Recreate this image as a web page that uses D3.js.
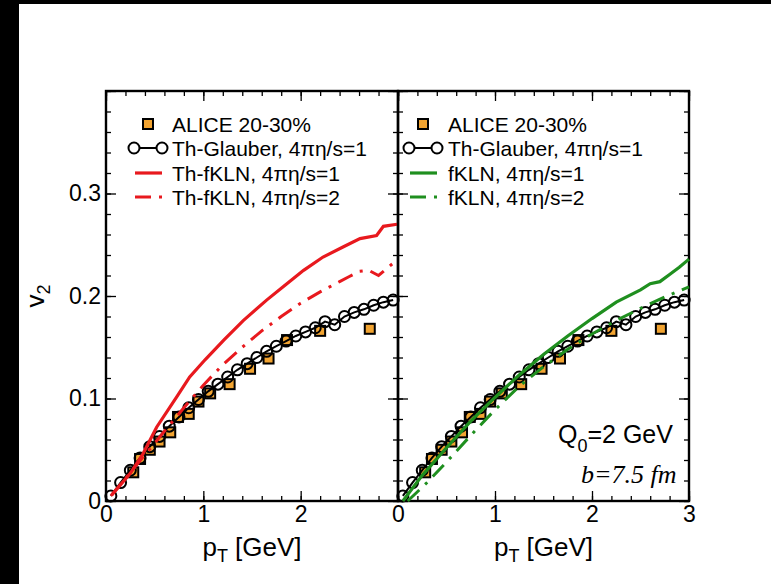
<!DOCTYPE html>
<html>
<head>
<meta charset="utf-8">
<script src="https://cdn.jsdelivr.net/npm/d3@7"></script>
<style>
  body { margin: 0; background: #000; }
  svg { display: block; }
</style>
</head>
<body>
<svg id="v2Chart" width="771" height="584"></svg>
<script>
// Th-Glauber, 4pi eta/s = 1 (same curve in both panels)
const glauberPt = [0.05, 0.15, 0.25, 0.35, 0.45, 0.55, 0.65, 0.75, 0.85, 0.95, 1.05, 1.15, 1.25, 1.35, 1.45,
    1.55, 1.65, 1.75, 1.85, 1.95, 2.05, 2.15, 2.25, 2.35, 2.45, 2.55, 2.65, 2.75, 2.85, 2.95];
const glauberV2 = [0.005, 0.018, 0.030, 0.042, 0.053, 0.063, 0.073, 0.082, 0.091, 0.099, 0.107, 0.114, 0.121, 0.128, 0.134,
    0.140, 0.146, 0.151, 0.156, 0.161, 0.165, 0.169, 0.175, 0.172, 0.180, 0.184, 0.187, 0.191, 0.194, 0.196];

// ALICE 20-30%
const alicePt = [0.28, 0.35, 0.45, 0.55, 0.66, 0.74, 0.85, 0.95, 1.07, 1.27, 1.48, 1.67, 1.86, 2.2, 2.71];
const aliceV2 = [0.028, 0.041, 0.050, 0.058, 0.067, 0.082, 0.085, 0.097, 0.105, 0.114, 0.129, 0.139, 0.157, 0.166, 0.168];

// Th-fKLN (left panel)
const thfklnPt1 = [0.06, 0.25, 0.38, 0.52, 0.73, 0.86, 1.02, 1.21, 1.41, 1.65, 1.82, 2.03, 2.23, 2.44, 2.61, 2.78, 2.85, 2.99];
const thfklnV2_1 = [0.006, 0.027, 0.046, 0.072, 0.102, 0.121, 0.138, 0.157, 0.176, 0.196, 0.209, 0.225, 0.238, 0.248, 0.256, 0.259, 0.268, 0.270];
const thfklnPt2 = [0.05, 0.2, 0.4, 0.6, 0.8, 1.0, 1.2, 1.4, 1.6, 1.8, 2.0, 2.2, 2.4, 2.5, 2.6, 2.7, 2.8, 2.9, 3.0];
const thfklnV2_2 = [0.005, 0.022, 0.045, 0.068, 0.091, 0.113, 0.133, 0.150, 0.166, 0.180, 0.193, 0.204, 0.214, 0.219, 0.224, 0.225, 0.220, 0.228, 0.236];

// fKLN (right panel)
const fklnPt1 = [0.05, 0.25, 0.5, 0.75, 1.0, 1.25, 1.5, 1.75, 2.0, 2.25, 2.5, 2.6, 2.7, 2.8, 2.9, 3.0];
const fklnV2_1 = [0.0, 0.025, 0.052, 0.078, 0.101, 0.123, 0.143, 0.161, 0.178, 0.194, 0.206, 0.212, 0.214, 0.221, 0.228, 0.236];
const fklnPt2 = [0.1, 0.3, 0.5, 0.75, 1.0, 1.25, 1.5, 1.75, 2.0, 2.25, 2.5, 2.75, 3.0];
const fklnV2_2 = [0.0, 0.018, 0.038, 0.064, 0.089, 0.112, 0.131, 0.148, 0.163, 0.176, 0.188, 0.199, 0.209];

const xMajor = [0, 1, 2, 3];
const xMinor = [0, 0.2, 0.4, 0.6, 0.8, 1, 1.2, 1.4, 1.6, 1.8, 2, 2.2, 2.4, 2.6, 2.8, 3];
const yMajor = [0, 0.1, 0.2, 0.3, 0.4];
const yMinor = [0, 0.02, 0.04, 0.06, 0.08, 0.1, 0.12, 0.14, 0.16, 0.18, 0.2, 0.22, 0.24, 0.26, 0.28, 0.3, 0.32, 0.34, 0.36, 0.38, 0.4];
const yTickLabels = ["0", "0.1", "0.2", "0.3"];

const zip = (a, b) => a.map((v, i) => [v, b[i]]);

const RED = "#e8191e", GREEN = "#1f8f1f", ORANGE = "#f2a431";
const SANS = "'Liberation Sans', Arial, sans-serif";

const panels = [
    {
        range: [106, 398],
        xLabels: ["0", "1", "2"],
        color: RED,
        solid: zip(thfklnPt1, thfklnV2_1),
        dashed: zip(thfklnPt2, thfklnV2_2),
        legend: ["ALICE 20-30%", "Th-Glauber, 4\u03C0\u03B7/s=1", "Th-fKLN, 4\u03C0\u03B7/s=1", "Th-fKLN, 4\u03C0\u03B7/s=2"],
        legX: 148, textX: 172
    },
    {
        range: [398, 689],
        xLabels: ["0", "1", "2", "3"],
        color: GREEN,
        solid: zip(fklnPt1, fklnV2_1),
        dashed: zip(fklnPt2, fklnV2_2),
        legend: ["ALICE 20-30%", "Th-Glauber, 4\u03C0\u03B7/s=1", "fKLN, 4\u03C0\u03B7/s=1", "fKLN, 4\u03C0\u03B7/s=2"],
        legX: 423, textX: 448
    }
];

const svg = d3.select("#v2Chart");
svg.append("rect").attr("x", 19).attr("y", 4).attr("width", 752).attr("height", 580).attr("fill", "#fff");

const y = d3.scaleLinear().domain([0, 0.4]).range([501, 91]);

const styleAxis = g => {
    g.select(".domain").remove();
    g.selectAll("line").attr("stroke", "#000").attr("stroke-width", 1.3);
    g.attr("font-size", 23).attr("font-family", SANS);
    g.selectAll("text").attr("fill", "#000");
};

panels.forEach((p, pi) => {
    const x = d3.scaleLinear().domain([0, 3]).range(p.range);
    const g = svg.append("g");

    // ticks on all four sides, pointing inward
    g.append("g").attr("transform", `translate(0,${y(0)})`)
        .call(d3.axisBottom(x).tickValues(xMinor).tickSize(-5).tickFormat("")).call(styleAxis);
    g.append("g").attr("transform", `translate(0,${y(0)})`)
        .call(d3.axisBottom(x).tickValues(xMajor).tickSize(-10).tickPadding(5)
            .tickFormat((d, i) => p.xLabels[i] || "")).call(styleAxis);
    g.append("g").attr("transform", `translate(0,${y(0.4)})`)
        .call(d3.axisTop(x).tickValues(xMinor).tickSize(-5).tickFormat("")).call(styleAxis);
    g.append("g").attr("transform", `translate(0,${y(0.4)})`)
        .call(d3.axisTop(x).tickValues(xMajor).tickSize(-10).tickFormat("")).call(styleAxis);
    g.append("g").attr("transform", `translate(${x(0)},0)`)
        .call(d3.axisLeft(y).tickValues(yMinor).tickSize(-5).tickFormat("")).call(styleAxis);
    g.append("g").attr("transform", `translate(${x(0)},0)`)
        .call(d3.axisLeft(y).tickValues(yMajor).tickSize(-10).tickPadding(5)
            .tickFormat((d, i) => pi === 0 ? (yTickLabels[i] || "") : "")).call(styleAxis);
    g.append("g").attr("transform", `translate(${x(3)},0)`)
        .call(d3.axisRight(y).tickValues(yMinor).tickSize(-5).tickFormat("")).call(styleAxis);
    g.append("g").attr("transform", `translate(${x(3)},0)`)
        .call(d3.axisRight(y).tickValues(yMajor).tickSize(-10).tickFormat("")).call(styleAxis);

    g.append("rect")
        .attr("x", x(0)).attr("y", y(0.4))
        .attr("width", x(3) - x(0)).attr("height", y(0) - y(0.4))
        .attr("fill", "none").attr("stroke", "#000").attr("stroke-width", 2.4);

    const line = d3.line().x(d => x(d[0])).y(d => y(d[1]));

    // ALICE squares
    g.selectAll(".alice")
        .data(zip(alicePt, aliceV2))
        .enter().append("rect")
        .attr("x", d => x(d[0]) - 5).attr("y", d => y(d[1]) - 5)
        .attr("width", 10).attr("height", 10)
        .attr("fill", ORANGE).attr("stroke", "#000").attr("stroke-width", 2);

    // Th-Glauber line + open circles
    const glauber = zip(glauberPt, glauberV2);
    g.append("path").datum(glauber).attr("d", line)
        .attr("fill", "none").attr("stroke", "#000").attr("stroke-width", 2);
    g.selectAll(".glauber")
        .data(glauber)
        .enter().append("circle")
        .attr("cx", d => x(d[0])).attr("cy", d => y(d[1])).attr("r", 5.5)
        .attr("fill", "none").attr("stroke", "#000").attr("stroke-width", 2);

    g.append("path").datum(p.dashed).attr("d", line)
        .attr("fill", "none").attr("stroke", p.color).attr("stroke-width", 3)
        .attr("stroke-dasharray", "16,8,3,8");
    g.append("path").datum(p.solid).attr("d", line)
        .attr("fill", "none").attr("stroke", p.color).attr("stroke-width", 3.2);

    // legend
    const rows = [124, 148, 173, 197];
    const lg = g.append("g");
    lg.append("rect").attr("x", p.legX - 5).attr("y", rows[0] - 5).attr("width", 10).attr("height", 10)
        .attr("fill", ORANGE).attr("stroke", "#000").attr("stroke-width", 2);
    lg.append("line").attr("x1", p.legX - 14).attr("x2", p.legX + 14).attr("y1", rows[1]).attr("y2", rows[1])
        .attr("stroke", "#000").attr("stroke-width", 2);
    [-14, 14].forEach(dx => lg.append("circle").attr("cx", p.legX + dx).attr("cy", rows[1]).attr("r", 5.5)
        .attr("fill", "#fff").attr("stroke", "#000").attr("stroke-width", 2));
    lg.append("line").attr("x1", p.legX - 13).attr("x2", p.legX + 14).attr("y1", rows[2]).attr("y2", rows[2])
        .attr("stroke", p.color).attr("stroke-width", 3.2);
    lg.append("line").attr("x1", p.legX - 13).attr("x2", p.legX + 14).attr("y1", rows[3]).attr("y2", rows[3])
        .attr("stroke", p.color).attr("stroke-width", 3).attr("stroke-dasharray", "16,8,3,8");
    lg.selectAll("text").data(p.legend).enter().append("text")
        .attr("x", p.textX).attr("y", (d, i) => rows[i] + 7.5)
        .attr("font-family", SANS).attr("font-size", 21)
        .text(d => d);

    // x title
    const xt = g.append("text")
        .attr("x", (p.range[0] + p.range[1]) / 2).attr("y", 556)
        .attr("text-anchor", "middle").attr("font-family", SANS).attr("font-size", 26);
    xt.append("tspan").text("p");
    xt.append("tspan").attr("font-size", 18).attr("dy", 6).text("T");
    xt.append("tspan").attr("dy", -6).text(" [GeV]");
});

// y title
const yt = svg.append("text")
    .attr("transform", "translate(44,296) rotate(-90)")
    .attr("text-anchor", "middle").attr("font-family", SANS).attr("font-size", 26);
yt.append("tspan").text("v");
yt.append("tspan").attr("font-size", 18).attr("dy", 6).text("2");

// annotations
const q = svg.append("text").attr("x", 558).attr("y", 443)
    .attr("font-family", SANS).attr("font-size", 25);
q.append("tspan").text("Q");
q.append("tspan").attr("font-size", 18).attr("dy", 9).text("0");
q.append("tspan").attr("dy", -9).text("=2 GeV");

svg.append("text").attr("x", 581).attr("y", 483)
    .attr("font-family", "'Liberation Serif', 'Times New Roman', serif")
    .attr("font-style", "italic").attr("font-size", 26)
    .text("b=7.5 fm");
</script>
</body>
</html>
